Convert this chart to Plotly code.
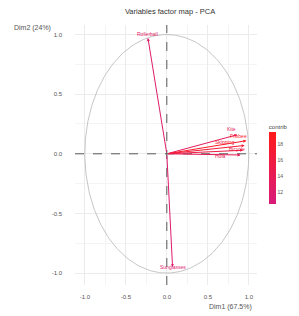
import numpy as np
import plotly.graph_objects as go
from plotly.colors import sample_colorscale

variables = ["Rollerball", "Sunglasses", "Kite", "Frisbee", "Skipping", "Bicycle", "Hula"]
dim1 = [-0.23, 0.07, 0.86, 0.97, 0.95, 0.93, 0.90]
dim2 = [0.97, -0.95, 0.16, 0.11, 0.07, 0.03, -0.01]
contrib = [12.2, 11.8, 13.5, 18.5, 17.0, 15.5, 14.0]
label_dy = [4, 0, 6, 5, 3, 1, -1]
label_dx = [0, 0, -6, -8, -20, -6, -20]

cmin, cmax = 10.5, 19.5
cscale = [[0, "#D81B7A"], [1, "#FF1A1A"]]
cols = [sample_colorscale(cscale, (c - cmin) / (cmax - cmin))[0] for c in contrib]

fig = go.Figure()

t = np.linspace(0, 2 * np.pi, 300)
fig.add_trace(go.Scatter(x=np.cos(t), y=np.sin(t), mode="lines",
                         line=dict(color="#B8B8B8", width=0.8), hoverinfo="skip", showlegend=False))

fig.add_trace(go.Scatter(x=[None], y=[None], mode="markers", showlegend=False,
                         marker=dict(color=[cmin], cmin=cmin, cmax=cmax, colorscale=cscale, showscale=True,
                                     colorbar=dict(title=dict(text="contrib", font=dict(size=6, color="#444")),
                                                   thickness=7, len=0.32, lenmode="fraction",
                                                   x=1.065, xanchor="left", xpad=0, ypad=0,
                                                   y=0.47, yanchor="middle", outlinewidth=0,
                                                   tickvals=[12, 14, 16, 18], ticks="",
                                                   tickfont=dict(size=5, color="#555")))))

for name, x, y, c, dy, dx in zip(variables, dim1, dim2, cols, label_dy, label_dx):
    fig.add_annotation(x=x, y=y, ax=0, ay=0, xref="x", yref="y", axref="x", ayref="y",
                       showarrow=True, arrowhead=2, arrowsize=0.6, arrowwidth=1, arrowcolor=c, text="")
    fig.add_annotation(x=x, y=y, text=name, showarrow=False, font=dict(size=5, color=c),
                       yshift=dy, xshift=dx, xanchor="center", yanchor="middle")

fig.add_shape(type="line", x0=-1.12, x1=1.1, y0=0, y1=0, line=dict(color="#333", width=0.8, dash="dash"))
fig.add_shape(type="line", x0=0, x1=0, y0=-1.1, y1=1.08, line=dict(color="#333", width=0.8, dash="dash"))

fig.update_layout(
    width=291, height=308, margin=dict(l=67, r=31, t=17, b=31),
    paper_bgcolor="white", plot_bgcolor="white",
    font=dict(family="Liberation Sans, Arial, sans-serif", size=6, color="#555"),
    title=dict(text="Variables factor map - PCA", x=0.557, xref="container", xanchor="center",
               y=0.997, yanchor="top", font=dict(size=7.5, color="#333")),
    xaxis=dict(range=[-1.12, 1.1], tickvals=[-1.0, -0.5, 0.0, 0.5, 1.0],
               ticktext=["-1.0", "-0.5", "0.0", "0.5", "1.0"], showgrid=True,
               gridcolor="#EBEBEB", gridwidth=0.8, zeroline=False, showline=False, ticks="",
               minor=dict(showgrid=True, gridcolor="#F4F4F4", dtick=0.25), tickfont=dict(size=6),
               ticklabelstandoff=7),
    yaxis=dict(range=[-1.1, 1.08], tickvals=[-1.0, -0.5, 0.0, 0.5, 1.0],
               ticktext=["-1.0", "-0.5", "0.0", "0.5", "1.0"], showgrid=True,
               gridcolor="#EBEBEB", gridwidth=0.8, zeroline=False, showline=False, ticks="",
               minor=dict(showgrid=True, gridcolor="#F4F4F4", dtick=0.25), tickfont=dict(size=6),
               ticklabelstandoff=12),
    showlegend=False,
)
fig.add_annotation(text="Dim2 (24%)", xref="paper", yref="paper", x=-0.347, y=0.988, xanchor="left",
                   yanchor="middle", showarrow=False, font=dict(size=7, color="#555"))
fig.add_annotation(text="Dim1 (67.5%)", xref="paper", yref="paper", x=0.984, y=-0.085, xanchor="right",
                   yanchor="middle", showarrow=False, font=dict(size=7, color="#555"))

fig.write_html("out.html")
